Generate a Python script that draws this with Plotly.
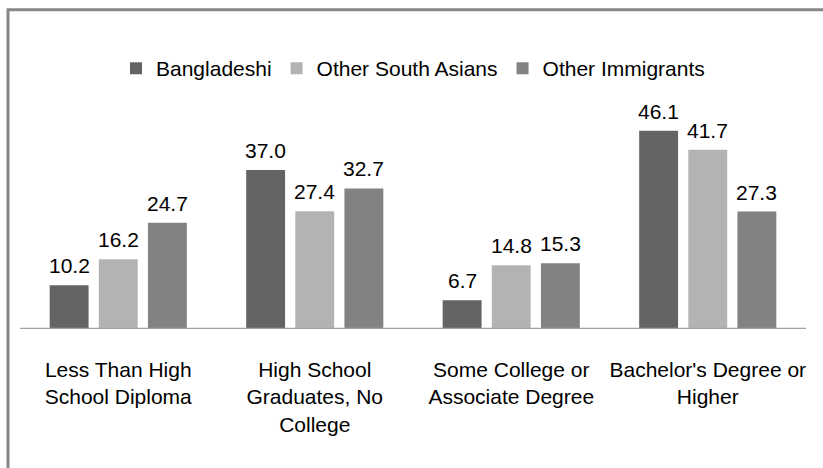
import plotly.graph_objects as go

# Educational attainment (%) by group
categories = [
    "Less Than High<br>School Diploma",
    "High School<br>Graduates, No<br>College",
    "Some College or<br>Associate Degree",
    "Bachelor's Degree or<br>Higher",
]
series_names = ["Bangladeshi", "Other South Asians", "Other Immigrants"]
bangladeshi = [10.2, 37.0, 6.7, 46.1]
other_south_asians = [16.2, 27.4, 14.8, 41.7]
other_immigrants = [24.7, 32.7, 15.3, 27.3]

series_values = [bangladeshi, other_south_asians, other_immigrants]
colors = ["#646464", "#b3b3b3", "#828282"]
offsets = [-0.25, 0.0, 0.25]
bar_width = 0.198

FONT = "Liberation Sans"
W, H = 823, 468
L, R, T, B = 20, 17, 113.5, 139

fig = go.Figure()
annotations = []
for name, vals, col, off in zip(series_names, series_values, colors, offsets):
    xs = [i + off for i in range(len(categories))]
    fig.add_trace(go.Bar(
        x=xs, y=vals, name=name, width=bar_width,
        marker=dict(color=col, line=dict(width=0)),
    ))
    for x, v in zip(xs, vals):
        annotations.append(dict(
            x=x, y=v, xref="x", yref="y", text=f"{v:.1f}",
            showarrow=False, yanchor="bottom", yshift=6,
            font=dict(family=FONT, size=21, color="#000000"),
        ))

plot_w = W - L - R
plot_h = H - T - B

def px_x(p):
    return (p - L) / plot_w

def px_y(p):
    return (H - B - p) / plot_h

shapes = [
    # outer frame
    dict(type="rect", xref="paper", yref="paper",
         x0=px_x(8), x1=px_x(840), y0=px_y(490), y1=px_y(9),
         line=dict(color="#878787", width=3), fillcolor="rgba(0,0,0,0)", layer="below"),
    # category axis line
    dict(type="line", xref="paper", yref="y",
         x0=px_x(20), x1=px_x(806), y0=0, y1=0,
         line=dict(color="#a3a3a3", width=2.5)),
]

fig.update_layout(
    width=W, height=H,
    margin=dict(l=L, r=R, t=T, b=B, pad=0),
    paper_bgcolor="white", plot_bgcolor="white",
    barmode="overlay",
    showlegend=True,
    legend=dict(orientation="h", x=px_x(413), xanchor="center",
                y=px_y(68), yanchor="middle",
                font=dict(family=FONT, size=21, color="#000000"),
                bgcolor="rgba(0,0,0,0)"),
    xaxis=dict(range=[-0.5, 3.5], tickvals=list(range(len(categories))),
               ticktext=categories, showgrid=False, zeroline=False,
               showline=False, ticks="", ticklabelstandoff=26,
               tickfont=dict(family=FONT, size=21, color="#000000")),
    yaxis=dict(range=[0, 50], visible=False, showgrid=False, zeroline=False),
    shapes=shapes,
    annotations=annotations,
)

fig.write_html("out.html")
